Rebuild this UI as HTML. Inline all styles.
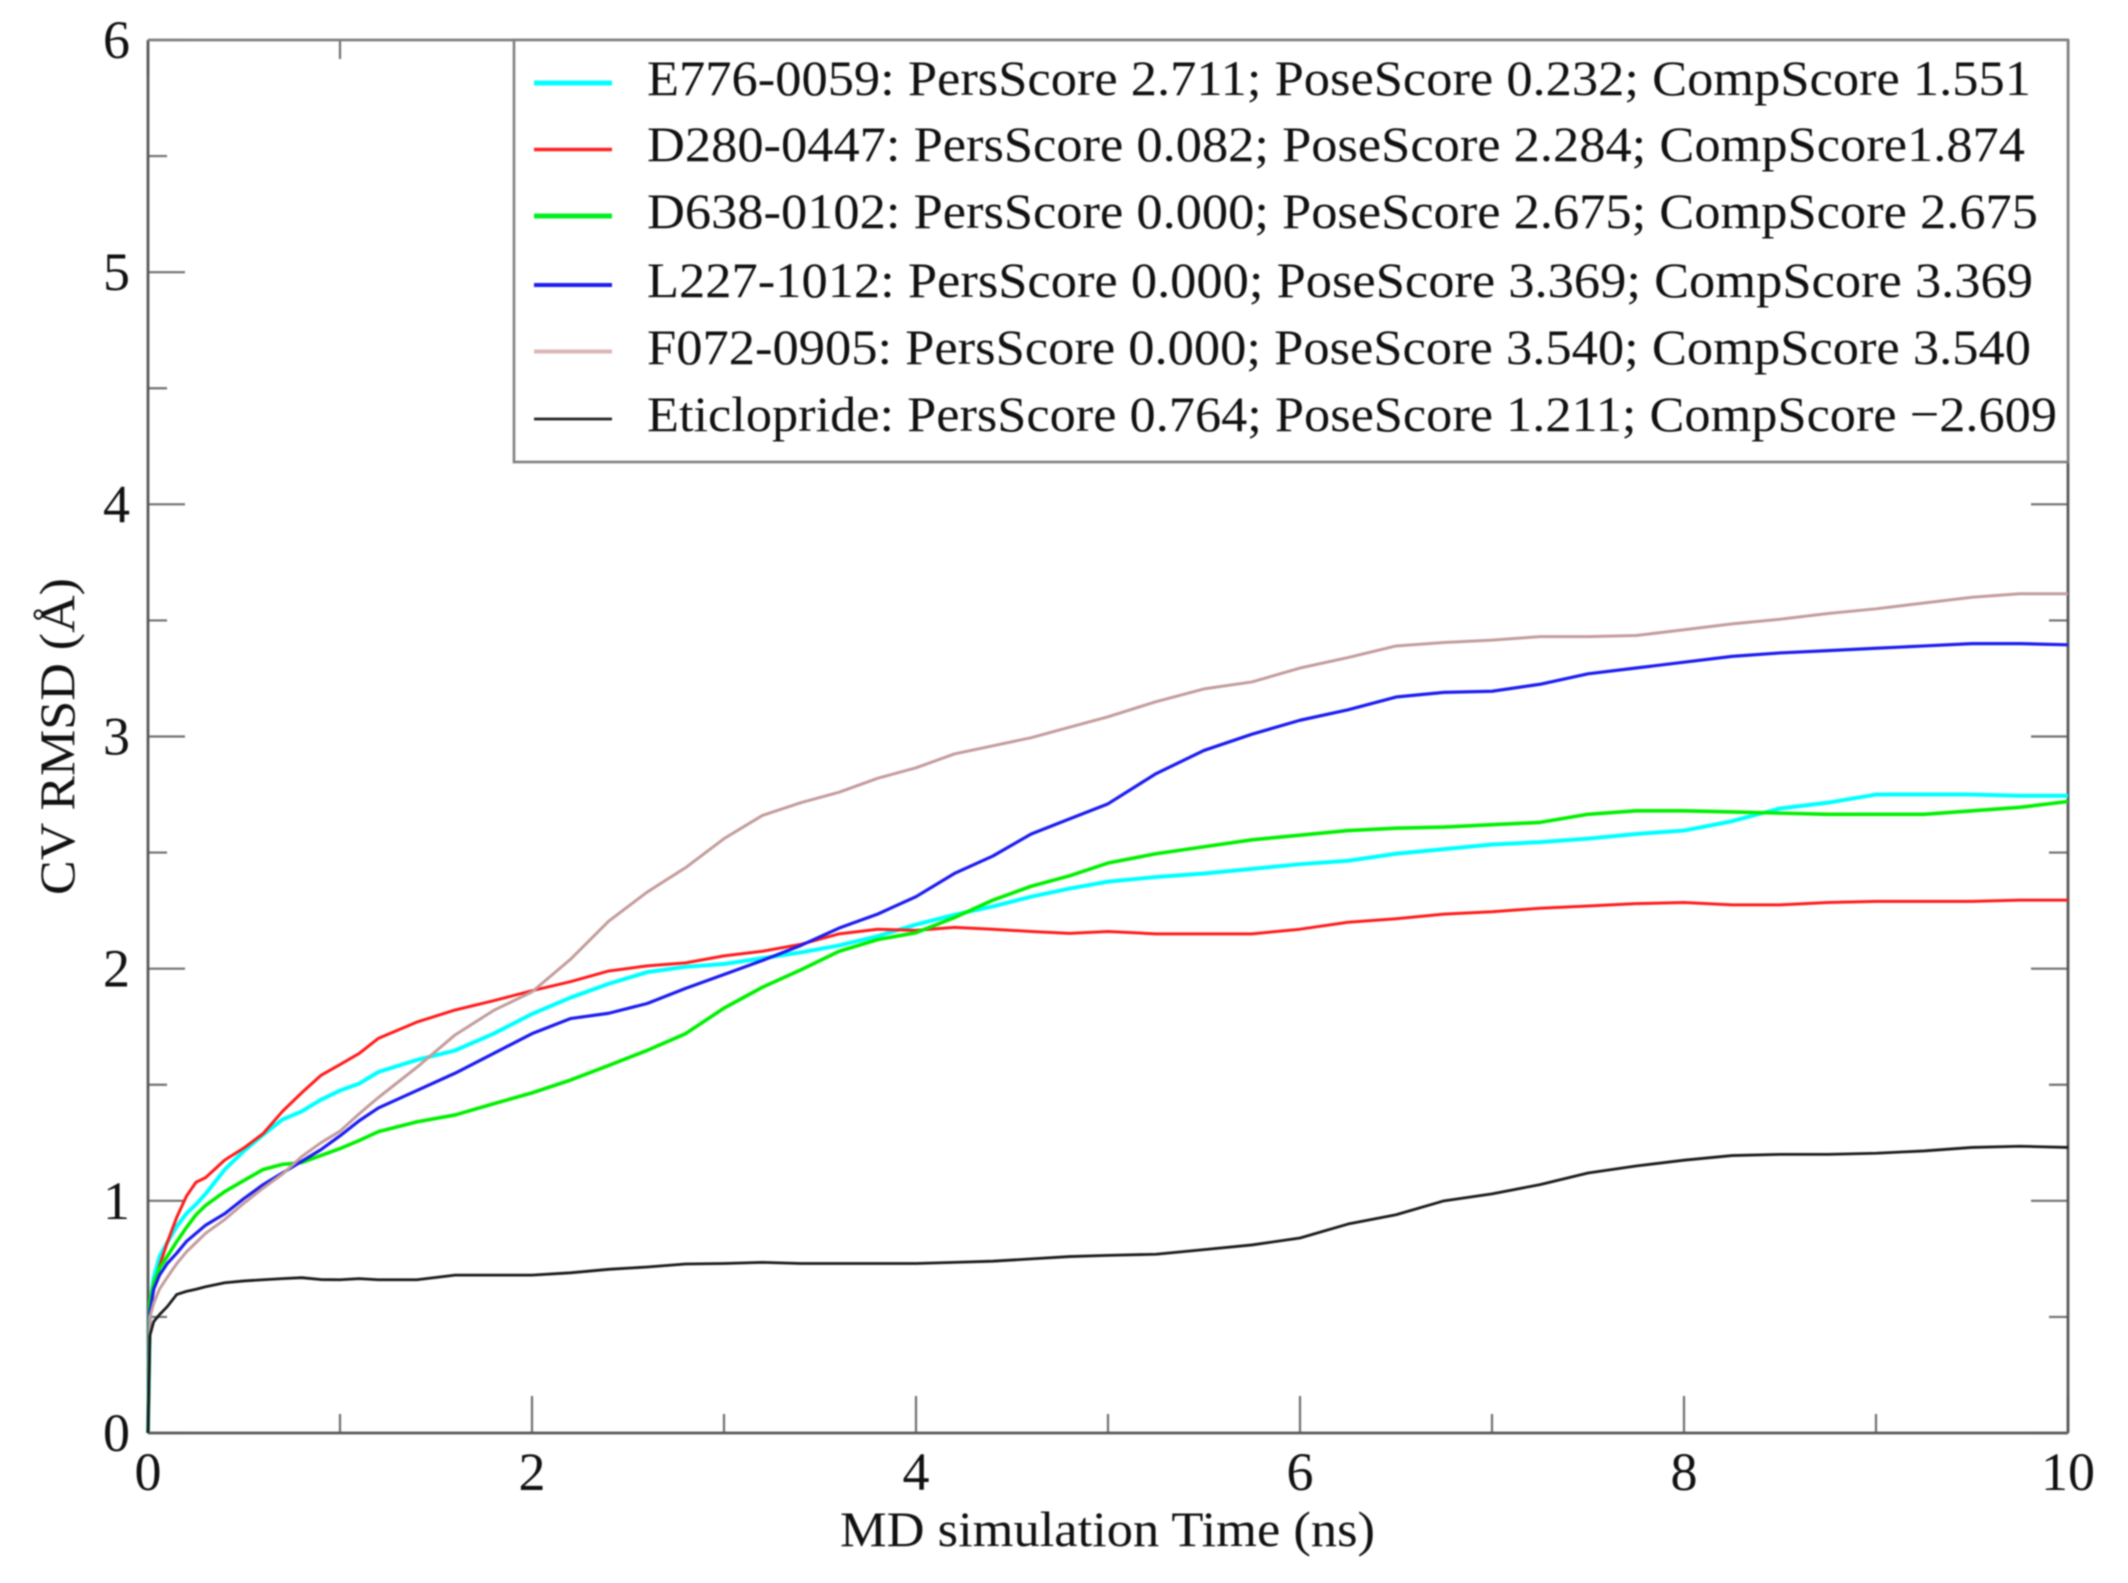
<!DOCTYPE html>
<html lang="en">
<head>
<meta charset="utf-8">
<title>CV RMSD over MD simulation time</title>
<style>
  html, body { margin: 0; padding: 0; background: #ffffff; }
  body { width: 2128px; height: 1583px; overflow: hidden; }
  svg { display: block; filter: blur(0.85px); }
  text { font-family: "Liberation Serif", "Times New Roman", serif; fill: #111; }
</style>
</head>
<body>
<svg id="chart" xmlns="http://www.w3.org/2000/svg" width="2128" height="1583" viewBox="0 0 2128 1583">
  <rect x="0" y="0" width="2128" height="1583" fill="#ffffff"/>
  <g id="ticks"></g>
  <g id="frame"></g>
  <g id="series"></g>
  <g id="tick-labels"></g>

  <text x="840" y="1546" font-size="50" textLength="535" lengthAdjust="spacingAndGlyphs">MD simulation Time (ns)</text>
  <text x="0" y="0" font-size="50" textLength="317" lengthAdjust="spacingAndGlyphs" transform="translate(74 895) rotate(-90)">CV RMSD (Å)</text>

  <g>
    <rect x="514" y="40" width="1554" height="422" fill="#ffffff" stroke="#808080" stroke-width="2.6"/>
    <g>
      <line x1="534" x2="612" y1="83" y2="83" stroke="#00ffff" stroke-width="5"/>
      <text x="647" y="95" font-size="50" textLength="1384" lengthAdjust="spacingAndGlyphs">E776-0059: PersScore 2.711; PoseScore 0.232; CompScore 1.551</text>
    </g>
    <g>
      <line x1="534" x2="612" y1="149.500" y2="149.500" stroke="#ff2020" stroke-width="3.500"/>
      <text x="647" y="161" font-size="50" textLength="1378" lengthAdjust="spacingAndGlyphs">D280-0447: PersScore 0.082; PoseScore 2.284; CompScore1.874</text>
    </g>
    <g>
      <line x1="534" x2="612" y1="216" y2="216" stroke="#00f020" stroke-width="5"/>
      <text x="647" y="228" font-size="50" textLength="1391" lengthAdjust="spacingAndGlyphs">D638-0102: PersScore 0.000; PoseScore 2.675; CompScore 2.675</text>
    </g>
    <g>
      <line x1="534" x2="612" y1="285" y2="285" stroke="#1c1cf0" stroke-width="4"/>
      <text x="647" y="297" font-size="50" textLength="1386" lengthAdjust="spacingAndGlyphs">L227-1012: PersScore 0.000; PoseScore 3.369; CompScore 3.369</text>
    </g>
    <g>
      <line x1="534" x2="612" y1="351.500" y2="351.500" stroke="#dcb6b6" stroke-width="4"/>
      <text x="647" y="364" font-size="50" textLength="1384" lengthAdjust="spacingAndGlyphs">F072-0905: PersScore 0.000; PoseScore 3.540; CompScore 3.540</text>
    </g>
    <g>
      <line x1="534" x2="612" y1="419" y2="419" stroke="#222222" stroke-width="2.800"/>
      <text x="647" y="431" font-size="50" textLength="1410" lengthAdjust="spacingAndGlyphs">Eticlopride: PersScore 0.764; PoseScore 1.211; CompScore −2.609</text>
    </g>
  </g>
</svg>
<script>
// Data
const times = [0,.01,.03,.06,.1,.15,.2,.25,.3,.4,.5,.6,.7,.8,.9,1,1.1,1.2,1.4,1.6,1.8,2,2.2,2.4,2.6,2.8,3,3.2,3.4,3.6,3.8,4,4.2,4.4,4.6,4.8,5,5.25,5.5,5.75,6,6.25,6.5,6.75,7,7.25,7.5,7.75,8,8.25,8.5,8.75,9,9.25,9.5,9.75,10];
const e776Values = [0,.55,.67,.76,.82,.89,.945,.985,1.03,1.135,1.215,1.285,1.35,1.385,1.435,1.475,1.505,1.555,1.607,1.648,1.72,1.805,1.875,1.935,1.985,2.008,2.02,2.045,2.07,2.10,2.14,2.19,2.232,2.268,2.31,2.345,2.375,2.395,2.41,2.43,2.45,2.465,2.495,2.515,2.535,2.545,2.56,2.58,2.595,2.635,2.69,2.715,2.75,2.75,2.75,2.745,2.745];
const d280Values = [0,.56,.63,.72,.82,.93,1.02,1.08,1.10,1.176,1.228,1.29,1.385,1.465,1.54,1.587,1.635,1.70,1.77,1.822,1.862,1.905,1.944,1.99,2.012,2.025,2.055,2.075,2.105,2.15,2.17,2.165,2.178,2.17,2.16,2.152,2.16,2.15,2.15,2.15,2.17,2.20,2.215,2.235,2.245,2.26,2.27,2.28,2.285,2.275,2.275,2.285,2.29,2.29,2.29,2.295,2.295];
const d638Values = [0,.56,.645,.71,.76,.825,.885,.94,.98,1.04,1.088,1.135,1.157,1.165,1.195,1.225,1.26,1.298,1.34,1.37,1.418,1.465,1.52,1.583,1.648,1.72,1.83,1.92,1.995,2.075,2.125,2.155,2.22,2.295,2.355,2.40,2.455,2.495,2.525,2.555,2.575,2.595,2.605,2.61,2.62,2.63,2.665,2.68,2.68,2.675,2.67,2.665,2.665,2.665,2.68,2.695,2.72];
const l227Values = [0,.52,.62,.68,.73,.775,.825,.86,.895,.945,1.01,1.07,1.12,1.17,1.22,1.28,1.345,1.40,1.475,1.55,1.635,1.72,1.785,1.808,1.85,1.915,1.975,2.035,2.10,2.175,2.235,2.31,2.41,2.485,2.58,2.645,2.71,2.84,2.94,3.01,3.07,3.115,3.17,3.19,3.195,3.225,3.27,3.295,3.32,3.345,3.36,3.37,3.38,3.39,3.40,3.40,3.395];
const f072Values = [0,.50,.56,.62,.67,.73,.78,.82,.86,.92,.99,1.055,1.115,1.19,1.25,1.30,1.375,1.445,1.575,1.715,1.82,1.90,2.04,2.205,2.33,2.435,2.56,2.66,2.715,2.76,2.82,2.865,2.925,2.96,2.995,3.04,3.085,3.15,3.205,3.235,3.295,3.34,3.39,3.405,3.415,3.43,3.43,3.435,3.46,3.485,3.505,3.53,3.55,3.575,3.60,3.615,3.615];
const eticloprideValues = [0,.42,.48,.51,.544,.597,.61,.619,.63,.647,.655,.66,.665,.669,.661,.66,.665,.66,.66,.68,.68,.68,.69,.705,.715,.728,.73,.735,.73,.73,.73,.73,.735,.74,.75,.76,.765,.77,.79,.81,.84,.90,.94,1.0,1.03,1.07,1.12,1.15,1.175,1.195,1.2,1.2,1.205,1.215,1.23,1.235,1.23];

const xMajorTicks = [0,2,4,6,8,10];
const xMinorTicks = [1,3,5,7,9];
const yMajorTicks = [0,1,2,3,4,5,6];
const yMinorTicks = [0.5,1.5,2.5,3.5,4.5,5.5];
const xTickLabels = ["0","2","4","6","8","10"];
const yTickLabels = ["0","1","2","3","4","5","6"];

const NS = "http://www.w3.org/2000/svg";
const plot = { left: 148, right: 2068, top: 40, bottom: 1433 };
const xMax = 10, yMax = 6;
function sx(t) { return plot.left + (t / xMax) * (plot.right - plot.left); }
function sy(v) { return plot.bottom - (v / yMax) * (plot.bottom - plot.top); }

function addLine(parent, x1, y1, x2, y2, stroke, width) {
  const l = document.createElementNS(NS, "line");
  l.setAttribute("x1", x1);
  l.setAttribute("y1", y1);
  l.setAttribute("x2", x2);
  l.setAttribute("y2", y2);
  l.setAttribute("stroke", stroke);
  l.setAttribute("stroke-width", width);
  parent.appendChild(l);
  return l;
}

// Ticks, mirrored on all four sides
const tickGroup = document.getElementById("ticks");
const MAJOR = 37, MINOR = 19, TICK_COLOR = "#707070";
xMajorTicks.forEach(function (t) {
  const a = addLine(tickGroup, sx(t), plot.bottom, sx(t), plot.bottom - MAJOR, TICK_COLOR, 2.2);
  
  
  const b = addLine(tickGroup, sx(t), plot.top, sx(t), plot.top + MAJOR, TICK_COLOR, 2.2);
  
  
});
xMinorTicks.forEach(function (t) {
  const a = addLine(tickGroup, sx(t), plot.bottom, sx(t), plot.bottom - MINOR, TICK_COLOR, 2.2);
  
  
  const b = addLine(tickGroup, sx(t), plot.top, sx(t), plot.top + MINOR, TICK_COLOR, 2.2);
  
  
});
yMajorTicks.forEach(function (v) {
  const a = addLine(tickGroup, plot.left, sy(v), plot.left + MAJOR, sy(v), TICK_COLOR, 2.2);
  
  
  const b = addLine(tickGroup, plot.right, sy(v), plot.right - MAJOR, sy(v), TICK_COLOR, 2.2);
  
  
});
yMinorTicks.forEach(function (v) {
  const a = addLine(tickGroup, plot.left, sy(v), plot.left + MINOR, sy(v), TICK_COLOR, 2.2);
  
  
  const b = addLine(tickGroup, plot.right, sy(v), plot.right - MINOR, sy(v), TICK_COLOR, 2.2);
  
  
});

// Frame
const frameGroup = document.getElementById("frame");
const frameLeft = addLine(frameGroup, plot.left, plot.top, plot.left, plot.bottom, "#585858", 2.8);


const frameBottom = addLine(frameGroup, plot.left, plot.bottom, plot.right, plot.bottom, "#585858", 2.8);


const frameTop = addLine(frameGroup, plot.left, plot.top, plot.right, plot.top, "#808080", 2.8);


const frameRight = addLine(frameGroup, plot.right, plot.top, plot.right, plot.bottom, "#585858", 2.8);



// Series
function drawSeries(values, color, width, name) {
  const d = values.map(function (v, i) {
    return (i ? "L" : "M") + sx(times[i]).toFixed(2) + " " + sy(v).toFixed(2);
  }).join(" ");
  const p = document.createElementNS(NS, "path");
  p.setAttribute("d", d);
  p.setAttribute("fill", "none");
  p.setAttribute("stroke", color);
  p.setAttribute("stroke-width", width);
  p.setAttribute("stroke-linejoin", "round");
  
  
  document.getElementById("series").appendChild(p);
}
drawSeries(e776Values, "#00ffff", 4, "series-e776-0059");
drawSeries(d280Values, "#ff1c1c", 3, "series-d280-0447");
drawSeries(d638Values, "#00f000", 3.6, "series-d638-0102");
drawSeries(l227Values, "#1c1cf0", 3.2, "series-l227-1012");
drawSeries(f072Values, "#c49c9c", 3, "series-f072-0905");
drawSeries(eticloprideValues, "#1a1a1a", 2.8, "series-eticlopride");

// Tick labels
const labelGroup = document.getElementById("tick-labels");
xMajorTicks.forEach(function (t, i) {
  const el = document.createElementNS(NS, "text");
  el.setAttribute("x", sx(t));
  el.setAttribute("y", 1490);
  el.setAttribute("font-size", 54);
  el.setAttribute("text-anchor", "middle");
  el.textContent = xTickLabels[i];
  
  
  labelGroup.appendChild(el);
});
yMajorTicks.forEach(function (v, i) {
  const el = document.createElementNS(NS, "text");
  el.setAttribute("x", 130);
  el.setAttribute("y", sy(v) + 18);
  el.setAttribute("font-size", 54);
  el.setAttribute("text-anchor", "end");
  el.textContent = yTickLabels[i];
  
  
  labelGroup.appendChild(el);
});
</script>
</body>
</html>
